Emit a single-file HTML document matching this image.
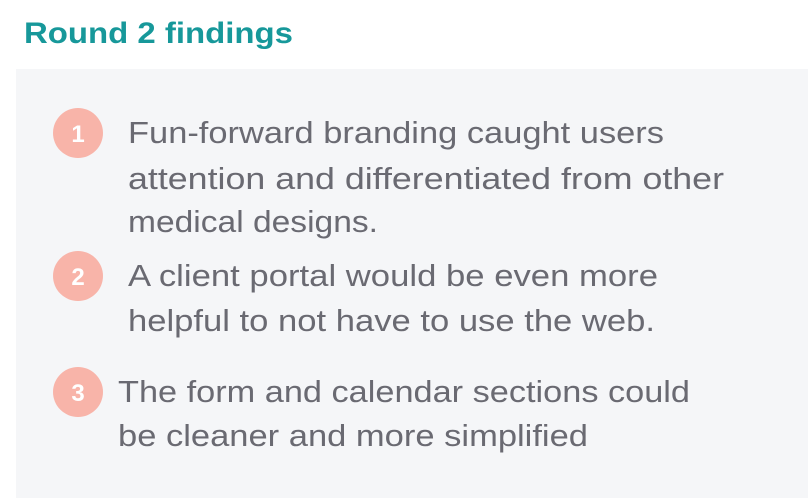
<!DOCTYPE html>
<html><head><meta charset="utf-8"><style>
html,body{margin:0;padding:0;background:#fff;width:808px;height:498px;overflow:hidden}
svg{display:block}
.t{font-family:"Liberation Sans",sans-serif;font-size:31px;fill:#6a6a72}
.n{font-family:"Liberation Sans",sans-serif;font-size:24px;font-weight:bold;fill:#fff}
</style></head><body>
<svg width="808" height="498">
<text x="24" y="43" textLength="269" lengthAdjust="spacingAndGlyphs" style="font-family:'Liberation Sans',sans-serif;font-weight:bold;font-size:30px;fill:#17989a">Round 2 findings</text>
<rect x="16" y="69" width="792" height="429" fill="#f5f6f8"/>
<g>
<circle cx="78" cy="133" r="25" fill="#f8b4a9"/>
<text class="n" x="78" y="142" text-anchor="middle">1</text>
<text class="t" x="128" y="143" textLength="536" lengthAdjust="spacingAndGlyphs">Fun-forward branding caught users</text>
<text class="t" x="128" y="189" textLength="596" lengthAdjust="spacingAndGlyphs">attention and differentiated from other</text>
<text class="t" x="128" y="232" textLength="250" lengthAdjust="spacingAndGlyphs">medical designs.</text>
</g>
<g>
<circle cx="78" cy="276" r="25" fill="#f8b4a9"/>
<text class="n" x="78" y="285" text-anchor="middle">2</text>
<text class="t" x="128" y="286" textLength="530" lengthAdjust="spacingAndGlyphs">A client portal would be even more</text>
<text class="t" x="128" y="331" textLength="527" lengthAdjust="spacingAndGlyphs">helpful to not have to use the web.</text>
</g>
<g>
<circle cx="78" cy="392" r="25" fill="#f8b4a9"/>
<text class="n" x="78" y="401" text-anchor="middle">3</text>
<text class="t" x="118" y="402" textLength="572" lengthAdjust="spacingAndGlyphs">The form and calendar sections could</text>
<text class="t" x="118" y="446" textLength="470" lengthAdjust="spacingAndGlyphs">be cleaner and more simplified</text>
</g>
</svg>
</body></html>
